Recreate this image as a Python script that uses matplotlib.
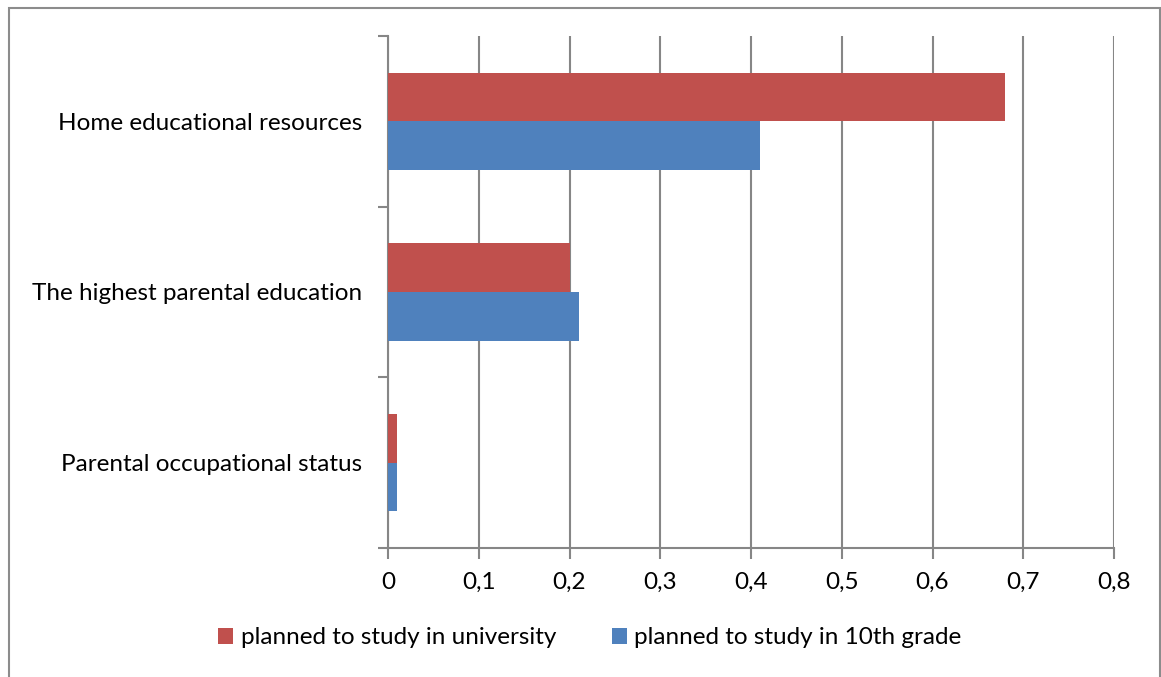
import matplotlib.pyplot as plt
from matplotlib.patches import Rectangle
import numpy as np

# chart data
categories = ["Parental occupational status",
              "The highest parental education",
              "Home educational resources"]
university = [0.01, 0.20, 0.68]
grade10 = [0.01, 0.21, 0.41]
x_ticks = [0, 0.1, 0.2, 0.3, 0.4, 0.5, 0.6, 0.7, 0.8]
x_labels = ["0", "0,1", "0,2", "0,3", "0,4", "0,5", "0,6", "0,7", "0,8"]
series_names = ["planned to study in university", "planned to study in 10th grade"]

RED = "#C0504D"
BLUE = "#4F81BD"
GRID = "#868686"
FS = 17.5

plt.rcParams['font.family'] = ['Lato', 'DejaVu Sans']

fig = plt.figure(figsize=(11.61, 6.77), dpi=100)
ax = fig.add_axes([388 / 1161, 1 - 548 / 677, (1114 - 388) / 1161, (548 - 36) / 677])

# outer chart frame
fig.patches.append(Rectangle((8.5 / 1161, -0.05), (1160 - 8.5) / 1161, 1 - 7.5 / 677 + 0.05,
                             transform=fig.transFigure, fill=False,
                             edgecolor="#8C8C8C", linewidth=1.5, clip_on=False))

y = np.arange(len(categories))
h = 0.285
ax.barh(y + h / 2, university, height=h, color=RED, zorder=3, label=series_names[0])
ax.barh(y - h / 2, grade10, height=h, color=BLUE, zorder=3, label=series_names[1])

ax.set_xlim(0, 0.8)
ax.set_ylim(-0.5, 2.5)

ax.set_xticks(x_ticks)
ax.set_xticklabels(x_labels, fontsize=FS)
ax.set_yticks(y)
ax.set_yticklabels(categories, fontsize=FS)
ax.set_yticks([-0.5, 0.5, 1.5, 2.5], minor=True)

ax.tick_params(axis='y', which='major', length=0, pad=18.5)
ax.tick_params(axis='y', which='minor', length=7, width=1.5, color=GRID)
ax.tick_params(axis='x', length=8, width=1.5, color=GRID, pad=9)

ax.grid(axis='x', color=GRID, linewidth=1.5, zorder=0)
ax.set_axisbelow(True)

for side in ['top', 'right']:
    ax.spines[side].set_visible(False)
for side in ['left', 'bottom']:
    ax.spines[side].set_color(GRID)
    ax.spines[side].set_linewidth(1.5)

leg = fig.legend(loc='center', bbox_to_anchor=(590 / 1161, 1 - 638 / 677), ncol=2,
                 frameon=False, fontsize=FS, handlelength=0.62, handleheight=0.62,
                 handletextpad=0.3, columnspacing=2.3)

fig.savefig("out.png", dpi=100)
